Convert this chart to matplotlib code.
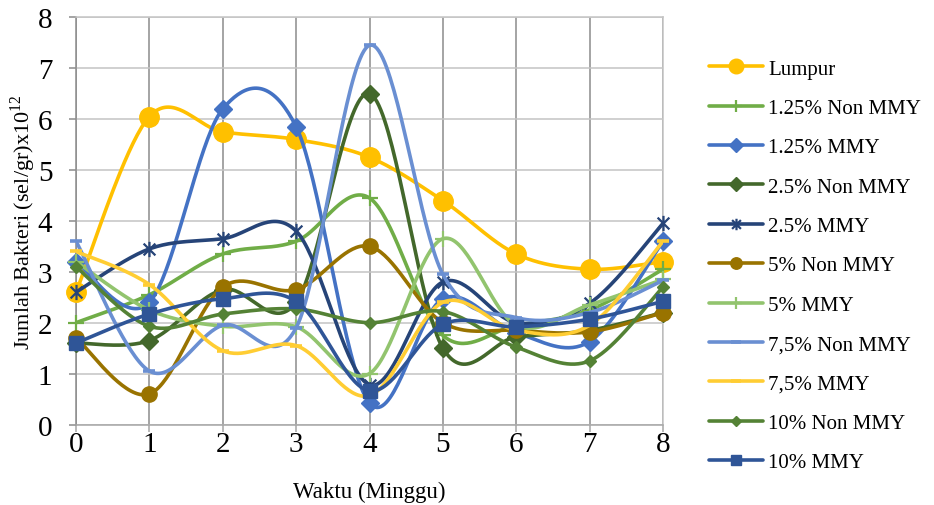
import numpy as np
import matplotlib
matplotlib.use("Agg")
import matplotlib.pyplot as plt
from matplotlib.lines import Line2D
from matplotlib.path import Path

# Data

weeks = [0, 1, 2, 3, 4, 5, 6, 7, 8]

lumpur    = [2.6, 6.05, 5.75, 5.6, 5.25, 4.4, 3.35, 3.05, 3.2]
non_125   = [2.0, 2.55, 3.35, 3.6, 4.45, 1.75, 1.95, 2.25, 3.05]
mmy_125   = [3.2, 2.4, 6.2, 5.85, 0.42, 2.47, 1.8, 1.63, 3.6]
non_25    = [1.6, 1.65, 2.65, 2.4, 6.5, 1.5, 1.72, 1.85, 2.2]
mmy_25    = [2.6, 3.45, 3.65, 3.8, 0.78, 2.8, 2.0, 2.38, 3.95]
non_5     = [1.7, 0.6, 2.7, 2.65, 3.5, 2.0, 1.85, 1.82, 2.2]
mmy_5     = [3.2, 2.25, 1.93, 1.92, 1.0, 3.65, 1.95, 2.35, 2.85]
non_75    = [3.6, 1.05, 1.95, 1.9, 7.45, 2.95, 2.1, 2.2, 2.83]
mmy_75    = [3.4, 2.75, 1.45, 1.55, 0.57, 2.4, 1.85, 1.95, 3.6]
non_10    = [3.1, 1.93, 2.17, 2.27, 2.0, 2.22, 1.52, 1.25, 2.7]
mmy_10    = [1.6, 2.17, 2.47, 2.42, 0.66, 1.97, 1.92, 2.07, 2.42]

labels = ["Lumpur", "1.25% Non MMY", "1.25% MMY", "2.5% Non MMY", "2.5% MMY",
          "5% Non MMY", "5% MMY", "7,5% Non MMY", "7,5% MMY", "10% Non MMY", "10% MMY"]
series = [lumpur, non_125, mmy_125, non_25, mmy_25, non_5, mmy_5,
          non_75, mmy_75, non_10, mmy_10]

# Style

star = Path([(-1, -1), (1, 1), (-1, 1), (1, -1), (0, -1.3), (0, 1.3)],
            [Path.MOVETO, Path.LINETO, Path.MOVETO, Path.LINETO, Path.MOVETO, Path.LINETO])

colors  = ["#FFC000", "#70AD47", "#4472C4", "#43682B", "#264478", "#997300",
           "#92C46E", "#6A8FD2", "#FFCD33", "#548235", "#2F5597"]
markers = ["o", "+", "D", "D", star, "o", "+", "_", "_", "D", "s"]
msizes  = [14, 11, 9, 9, 11, 11, 11, 9, 9, 6.5, 9.5]

plt.rcParams["font.family"] = "Liberation Serif"
plt.rcParams["mathtext.fontset"] = "custom"
plt.rcParams["mathtext.rm"] = "Liberation Serif"


def smooth(x, y, n=40):
    # Bezier smoothing through the points, close to what Excel draws
    P = np.column_stack([np.asarray(x, float), np.asarray(y, float)])
    out = []
    t = np.linspace(0, 1, n)[:, None]
    for i in range(len(P) - 1):
        p0 = P[i - 1] if i > 0 else P[i]
        p1, p2 = P[i], P[i + 1]
        p3 = P[i + 2] if i + 2 < len(P) else P[i + 1]
        c1 = p1 + (p2 - p0) / 6
        c2 = p2 - (p3 - p1) / 6
        seg = (1 - t)**3*p1 + 3*(1 - t)**2*t*c1 + 3*(1 - t)*t**2*c2 + t**3*p2
        out.append(seg if i == 0 else seg[1:])
    return np.vstack(out)


fig = plt.figure(figsize=(9.34, 5.06), dpi=100)
ax = fig.add_axes([76/934, 1 - 425.5/506, (663 - 76)/934, (425.5 - 18.3)/506])

handles = []
for vals, lab, c, m, ms in zip(series, labels, colors, markers, msizes):
    curve = smooth(weeks, vals)
    ax.plot(curve[:, 0], curve[:, 1], color=c, lw=2.6, solid_capstyle="round", zorder=3)
    mew = 1.6 if m in ("+", "_") or m is star else 1.0
    if m == "_":
        mew = 2.6
    ax.plot(weeks, vals, ls="none", marker=m, ms=ms, color=c, mec=c, mew=mew,
            zorder=3, clip_on=False)
    handles.append(Line2D([], [], color=c, lw=2.6, marker=m, ms=ms*0.75,
                          mec=c, mew=mew, solid_capstyle="round"))

ax.set_xlim(0, 8)
ax.set_ylim(0, 8)
ax.set_xticks(range(0, 9))
ax.set_yticks(range(0, 9))

ax.xaxis.grid(True, color="#8C8C8C", lw=1.1)
ax.yaxis.grid(True, color="#C4C4C4", lw=1.1)
ax.set_axisbelow(True)
ax.spines["left"].set_color("#8C8C8C")
ax.spines["bottom"].set_color("#A6A6A6")
ax.spines["top"].set_color("#C4C4C4")
ax.spines["right"].set_color("#C4C4C4")
for s in ax.spines.values():
    s.set_linewidth(1.1)

ax.tick_params(axis="x", direction="out", length=5, width=1.1, color="#A6A6A6",
               labelsize=21, pad=0)
ax.tick_params(axis="y", direction="out", length=5, width=1.1, color="#8C8C8C",
               labelsize=21, pad=12)

ax.set_xlabel("Waktu (Minggu)", fontsize=16.5, labelpad=17)
ax.set_ylabel(r"Jumlah Bakteri (sel/gr)x10$^{\mathrm{12}}$", fontsize=16, labelpad=0)

fig.legend(handles, labels, loc="upper left", bbox_to_anchor=(709/934, 1 - 60/506),
           frameon=False, fontsize=15, handlelength=2.6, handletextpad=0.25,
           labelspacing=0.95, borderpad=0, borderaxespad=0)

fig.savefig("out.png", dpi=100)
